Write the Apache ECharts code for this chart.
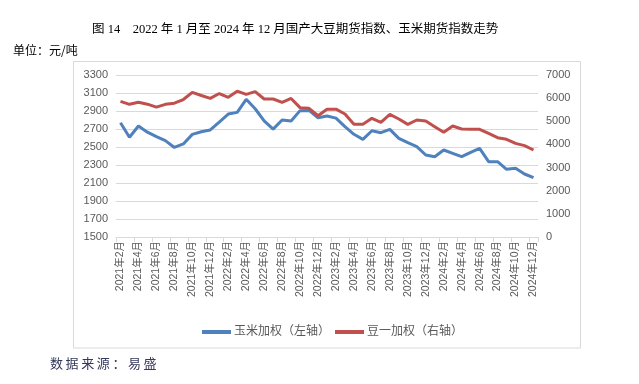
<!DOCTYPE html>
<html>
<head>
<meta charset="utf-8">
<script src="https://cdn.jsdelivr.net/npm/echarts@6/dist/echarts.min.js"></script>
<style>
html,body{margin:0;padding:0;background:#fff;}
#c{width:639px;height:384px;}
</style>
</head>
<body>
<div id="c"></div>
<script>
const categories = [
"2021年2月","2021年3月","2021年4月","2021年5月","2021年6月","2021年7月","2021年8月","2021年9月","2021年10月","2021年11月","2021年12月",
"2022年1月","2022年2月","2022年3月","2022年4月","2022年5月","2022年6月","2022年7月","2022年8月","2022年9月","2022年10月","2022年11月","2022年12月",
"2023年1月","2023年2月","2023年3月","2023年4月","2023年5月","2023年6月","2023年7月","2023年8月","2023年9月","2023年10月","2023年11月","2023年12月",
"2024年1月","2024年2月","2024年3月","2024年4月","2024年5月","2024年6月","2024年7月","2024年8月","2024年9月","2024年10月","2024年11月","2024年12月"
];
const cornValues = [
2770,2608,2733,2665,2615,2571,2495,2534,2640,2670,2689,
2776,2866,2885,3030,2925,2791,2699,2800,2788,2904,2906,2825,
2845,2821,2726,2641,2585,2681,2659,2696,2596,2548,2505,2411,
2392,2467,2430,2392,2441,2485,2337,2337,2252,2263,2200,2159
];
const soyValues = [
5863,5733,5825,5740,5610,5733,5780,5940,6252,6115,5992,
6200,6035,6300,6160,6280,5963,5963,5820,5985,5590,5560,5240,
5520,5525,5315,4868,4868,5127,4954,5300,5099,4868,5056,5012,
4767,4522,4796,4667,4652,4652,4479,4292,4220,4047,3947,3759
];
const seriesNames = ["玉米加权（左轴）","豆一加权（右轴）"];
const leftTicks = {min:1500, max:3300, interval:200};
const rightTicks = {min:0, max:7000, interval:1000};
const titleText = "图 14    2022 年 1 月至 2024 年 12 月国产大豆期货指数、玉米期货指数走势";
const unitText = "单位：元/吨";
const sourceText = "数\u2009据\u2009来\u2009源\u2009：\u2009易\u2009盛";

const chart = echarts.init(document.getElementById('c'), null, {renderer:'canvas'});
const labelFont = '"Liberation Sans","Noto Sans CJK SC",sans-serif';
const plain = v => String(v);
chart.setOption({
  animation:false,
  backgroundColor:'#fff',
  grid:{left:116, right:101, top:75, bottom:147, containLabel:false},
  legend:{
    left:197, top:321, itemWidth:29, itemHeight:4, itemGap:5, icon:'rect',
    textStyle:{fontSize:12, color:'#595959', fontFamily:labelFont, padding:[0,0,0,-2]},
    data:seriesNames
  },
  xAxis:{
    type:'category', data:categories, boundaryGap:true,
    axisLine:{lineStyle:{color:'#d9d9d9', width:1}},
    axisTick:{show:true, interval:1, length:5, lineStyle:{color:'#d9d9d9'}},
    axisLabel:{rotate:90, interval:1, fontSize:10.5, color:'#595959', margin:4, fontFamily:labelFont}
  },
  yAxis:[
    {type:'value', min:leftTicks.min, max:leftTicks.max, interval:leftTicks.interval,
     axisLine:{show:false}, axisTick:{show:false},
     splitLine:{lineStyle:{color:'#d9d9d9'}},
     axisLabel:{fontSize:11, color:'#595959', margin:8, fontFamily:labelFont, formatter:plain}},
    {type:'value', min:rightTicks.min, max:rightTicks.max, interval:rightTicks.interval,
     axisLine:{show:false}, axisTick:{show:false}, splitLine:{show:false},
     axisLabel:{fontSize:11, color:'#595959', margin:8, fontFamily:labelFont, formatter:plain}}
  ],
  series:[
    {name:seriesNames[0], type:'line', yAxisIndex:0, data:cornValues, symbol:'none',
     lineStyle:{width:3, color:'#4F81BD'}, itemStyle:{color:'#4F81BD'}},
    {name:seriesNames[1], type:'line', yAxisIndex:1, data:soyValues, symbol:'none',
     lineStyle:{width:3, color:'#C0504D'}, itemStyle:{color:'#C0504D'}}
  ],
  graphic:[
    {type:'rect', shape:{x:73.5, y:61.5, width:507, height:286.5}, silent:true,
     style:{fill:'none', stroke:'#d9d9d9', lineWidth:1}, z:-1},
    {type:'text', left:92, top:23, style:{text:titleText, fontSize:12.5, fill:'#000',
     fontFamily:'"Liberation Serif","Noto Sans CJK SC",serif'}},
    {type:'text', left:13, top:44, style:{text:unitText, fontSize:12, fill:'#000',
     fontFamily:'"Noto Sans CJK SC",sans-serif'}},
    {type:'text', left:50, top:357, style:{text:sourceText, fontSize:13, fill:'#34385a',
     fontFamily:'"Noto Sans CJK SC",serif'}}
  ]
});
</script>
</body>
</html>
